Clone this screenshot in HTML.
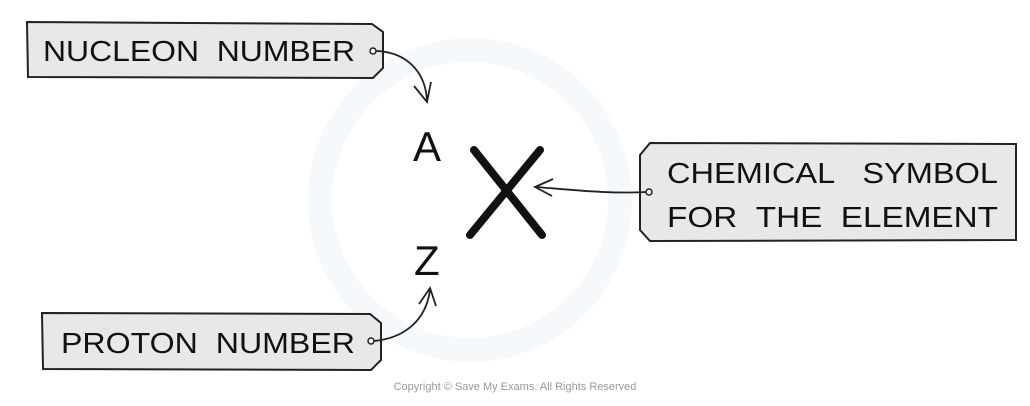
<!DOCTYPE html>
<html><head><style>
body{margin:0;background:#fff;}
svg{display:block}
text{font-family:"Liberation Sans",sans-serif;}
</style></head><body>
<svg width="1030" height="406" viewBox="0 0 1030 406">
<circle cx="470" cy="200" r="150" fill="none" stroke="#f5f9fc" stroke-width="24"/>
<path d="M27,22 L372,24 L383,32 L383,68 L373,78 L28,77 Z" fill="#e8e8e8" stroke="#222" stroke-width="2"/>
<text x="43" y="61" font-size="29" fill="#111" textLength="312" lengthAdjust="spacingAndGlyphs">NUCLEON&#160;&#160;NUMBER</text>
<circle cx="373" cy="51" r="3" fill="#fff" stroke="#222" stroke-width="1.5"/>
<path d="M376,51 C405,52 425,70 427,100" fill="none" stroke="#222" stroke-width="1.8"/>
<path d="M414,86 L427,102 L431,82" fill="none" stroke="#222" stroke-width="1.8"/>
<path d="M42,313 L370,314 L381,323 L381,360 L371,370 L43,369 Z" fill="#e8e8e8" stroke="#222" stroke-width="2"/>
<text x="61" y="353" font-size="29" fill="#111" textLength="294" lengthAdjust="spacingAndGlyphs">PROTON&#160;&#160;NUMBER</text>
<circle cx="371" cy="341" r="3" fill="#fff" stroke="#222" stroke-width="1.5"/>
<path d="M374,341 C405,338 426,320 430,290" fill="none" stroke="#222" stroke-width="1.8"/>
<path d="M419,304 L430,288 L436,306" fill="none" stroke="#222" stroke-width="1.8"/>
<path d="M650,143 L1016,144 L1016,240 L650,241 L640,230 L640,155 Z" fill="#e8e8e8" stroke="#222" stroke-width="2"/>
<text x="667" y="183" font-size="29" fill="#111" textLength="331" lengthAdjust="spacingAndGlyphs">CHEMICAL&#160;&#160;&#160;SYMBOL</text>
<text x="667" y="227" font-size="29" fill="#111" textLength="331" lengthAdjust="spacingAndGlyphs">FOR&#160;&#160;THE&#160;&#160;ELEMENT</text>
<circle cx="649" cy="192" r="3" fill="#fff" stroke="#222" stroke-width="1.5"/>
<path d="M646,192 C610,194 575,190 536,187" fill="none" stroke="#222" stroke-width="1.8"/>
<path d="M553,179 L535,187 L552,196" fill="none" stroke="#222" stroke-width="1.8"/>
<text x="413" y="161" font-size="42" fill="#111">A</text>
<text x="414" y="275" font-size="42" fill="#111">Z</text>
<path d="M474,150 L542,235 M540,150 L470,235" stroke="#111" stroke-width="8" stroke-linecap="round"/>
<text x="515" y="390" font-size="11" fill="#999" text-anchor="middle">Copyright © Save My Exams. All Rights Reserved</text>
</svg>
</body></html>
